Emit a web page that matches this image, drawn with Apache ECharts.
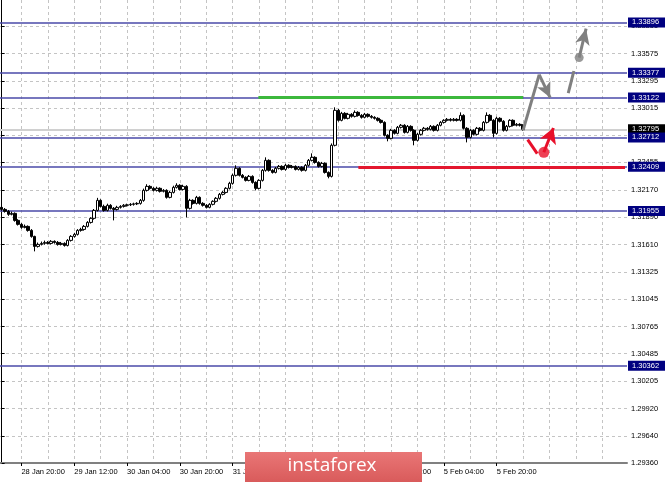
<!DOCTYPE html>
<html><head><meta charset="utf-8">
<script src="https://cdn.jsdelivr.net/npm/echarts@6/dist/echarts.min.js"></script>
<style>html,body{margin:0;padding:0;background:#fff}#c{width:665px;height:482px}</style>
</head><body><div id="c"></div>
<script>
// ---- DATA (H1 candles, 28 Jan 14:00 .. 6 Feb 04:00) ----
const opens = [
1.31992,1.31971,1.31951,1.31920,1.31930,1.31858,1.31817,1.31786,1.31796,1.31755,
1.31693,1.31590,1.31611,1.31621,1.31631,1.31621,1.31642,1.31631,1.31611,1.31621,
1.31600,1.31652,1.31693,1.31714,1.31755,1.31765,1.31796,1.31837,1.31879,1.31961,
1.32064,1.32002,1.31961,1.32013,1.31982,1.31971,1.31992,1.32002,1.32013,1.32018,
1.32023,1.32028,1.32033,1.32064,1.32167,1.32208,1.32188,1.32167,1.32188,1.32157,
1.32167,1.32095,1.32146,1.32198,1.32219,1.32177,1.32208,1.31982,1.32064,1.32033,
1.32095,1.32033,1.32013,1.31992,1.32023,1.32054,1.32085,1.32126,1.32146,1.32188,
1.32239,1.32322,1.32394,1.32322,1.32301,1.32270,1.32311,1.32249,1.32188,1.32270,
1.32373,1.32476,1.32373,1.32352,1.32394,1.32414,1.32383,1.32425,1.32404,1.32414,
1.32383,1.32404,1.32373,1.32425,1.32476,1.32507,1.32455,1.32414,1.32445,1.32352,
1.32311,1.32631,1.32991,1.32888,1.32960,1.32909,1.32950,1.32929,1.32970,1.32939,
1.32919,1.32950,1.32929,1.32919,1.32909,1.32888,1.32867,1.32734,1.32703,1.32785,
1.32754,1.32816,1.32837,1.32764,1.32826,1.32785,1.32682,1.32744,1.32785,1.32806,
1.32795,1.32826,1.32785,1.32837,1.32867,1.32888,1.32898,1.32888,1.32898,1.32888,
1.32939,1.32806,1.32713,1.32785,1.32744,1.32806,1.32785,1.32867,1.32939,1.32888,
1.32754,1.32909,1.32878,1.32785,1.32826,1.32888,1.32837,1.32847,1.32837];
const closes = [
1.31971,1.31951,1.31920,1.31930,1.31858,1.31817,1.31786,1.31796,1.31755,1.31693,
1.31590,1.31611,1.31621,1.31631,1.31621,1.31642,1.31631,1.31611,1.31621,1.31600,
1.31652,1.31693,1.31714,1.31755,1.31765,1.31796,1.31837,1.31879,1.31961,1.32064,
1.32002,1.31961,1.32013,1.31982,1.31971,1.31992,1.32002,1.32013,1.32018,1.32023,
1.32028,1.32033,1.32064,1.32167,1.32208,1.32188,1.32167,1.32188,1.32157,1.32167,
1.32095,1.32146,1.32198,1.32219,1.32177,1.32208,1.31982,1.32064,1.32033,1.32095,
1.32033,1.32013,1.31992,1.32023,1.32054,1.32085,1.32126,1.32146,1.32188,1.32239,
1.32322,1.32394,1.32322,1.32301,1.32270,1.32311,1.32249,1.32188,1.32270,1.32373,
1.32476,1.32373,1.32352,1.32394,1.32414,1.32383,1.32425,1.32404,1.32414,1.32383,
1.32404,1.32373,1.32425,1.32476,1.32507,1.32455,1.32414,1.32445,1.32352,1.32311,
1.32631,1.32991,1.32888,1.32960,1.32909,1.32950,1.32929,1.32970,1.32939,1.32919,
1.32950,1.32929,1.32919,1.32909,1.32888,1.32867,1.32734,1.32703,1.32785,1.32754,
1.32816,1.32837,1.32764,1.32826,1.32785,1.32682,1.32744,1.32785,1.32806,1.32795,
1.32826,1.32785,1.32837,1.32867,1.32888,1.32898,1.32888,1.32898,1.32888,1.32939,
1.32806,1.32713,1.32785,1.32744,1.32806,1.32785,1.32867,1.32939,1.32888,1.32754,
1.32909,1.32878,1.32785,1.32826,1.32888,1.32837,1.32847,1.32837,1.32795];
const lows = [
1.31958,1.31938,1.31905,1.31910,1.31845,1.31805,1.31772,1.31776,1.31742,1.31680,
1.31539,1.31578,1.31600,1.31608,1.31610,1.31610,1.31618,1.31598,1.31600,1.31588,
1.31590,1.31640,1.31680,1.31702,1.31742,1.31752,1.31785,1.31825,1.31866,1.31950,
1.31990,1.31948,1.31950,1.31970,1.31858,1.31960,1.31980,1.31990,1.32000,1.32006,
1.32010,1.32016,1.32020,1.32050,1.32155,1.32175,1.32155,1.32155,1.32145,1.32146,
1.32082,1.32085,1.32135,1.32186,1.32165,1.32166,1.31889,1.31970,1.32020,1.32022,
1.32020,1.32000,1.31980,1.31982,1.32012,1.32042,1.32072,1.32115,1.32135,1.32176,
1.32226,1.32310,1.32310,1.32290,1.32258,1.32260,1.32236,1.32167,1.32176,1.32258,
1.32360,1.32360,1.32340,1.32342,1.32382,1.32372,1.32370,1.32392,1.32393,1.32372,
1.32372,1.32360,1.32362,1.32412,1.32465,1.32442,1.32402,1.32403,1.32340,1.32291,
1.32300,1.32620,1.32875,1.32878,1.32898,1.32898,1.32916,1.32918,1.32926,1.32906,
1.32908,1.32916,1.32906,1.32896,1.32876,1.32855,1.32722,1.32672,1.32692,1.32742,
1.32744,1.32804,1.32752,1.32754,1.32772,1.32631,1.32670,1.32732,1.32774,1.32782,
1.32784,1.32772,1.32774,1.32826,1.32855,1.32876,1.32876,1.32877,1.32876,1.32877,
1.32794,1.32661,1.32702,1.32732,1.32733,1.32772,1.32774,1.32855,1.32876,1.32713,
1.32742,1.32866,1.32772,1.32774,1.32814,1.32825,1.32826,1.32825,1.32782];
const highs = [
1.32010,1.31985,1.31965,1.31948,1.31940,1.31870,1.31830,1.31815,1.31806,1.31768,
1.31700,1.31630,1.31640,1.31650,1.31645,1.31655,1.31652,1.31645,1.31636,1.31632,
1.31665,1.31706,1.31730,1.31768,1.31782,1.31810,1.31850,1.31890,1.31975,1.32090,
1.32075,1.32020,1.32030,1.32025,1.31995,1.32008,1.32015,1.32026,1.32030,1.32036,
1.32040,1.32045,1.32078,1.32185,1.32230,1.32220,1.32200,1.32205,1.32198,1.32180,
1.32178,1.32160,1.32215,1.32240,1.32230,1.32225,1.32220,1.32080,1.32075,1.32110,
1.32105,1.32045,1.32025,1.32035,1.32065,1.32098,1.32140,1.32160,1.32200,1.32255,
1.32340,1.32425,1.32405,1.32335,1.32312,1.32325,1.32322,1.32260,1.32282,1.32386,
1.32507,1.32486,1.32385,1.32408,1.32428,1.32425,1.32440,1.32436,1.32428,1.32424,
1.32418,1.32415,1.32438,1.32490,1.32548,1.32518,1.32466,1.32460,1.32455,1.32362,
1.32650,1.33022,1.33005,1.32975,1.32972,1.32965,1.32962,1.32990,1.32982,1.32952,
1.32965,1.32960,1.32942,1.32930,1.32920,1.32900,1.32878,1.32745,1.32800,1.32797,
1.32830,1.32850,1.32848,1.32840,1.32837,1.32796,1.32758,1.32798,1.32820,1.32818,
1.32840,1.32836,1.32850,1.32880,1.32900,1.32912,1.32910,1.32912,1.32910,1.32970,
1.32950,1.32818,1.32798,1.32796,1.32820,1.32818,1.32880,1.32970,1.32952,1.32900,
1.32925,1.32920,1.32890,1.32840,1.32900,1.32898,1.32860,1.32858,1.32848];
const futureBars = 31;
const firstBar = '2019-01-28T14:00:00Z';
const yTickValues = [1.29360,1.29640,1.29920,1.30205,1.30485,1.30765,1.31045,1.31325,1.31610,1.31890,1.32170,1.32455,1.32735,1.33015,1.33295,1.33575,1.33855];
const xTickLabels = ["28 Jan 20:00","29 Jan 12:00","30 Jan 04:00","30 Jan 20:00","31 Jan 12:00","1 Feb 04:00","1 Feb 20:00","4 Feb 12:00","5 Feb 04:00","5 Feb 20:00"];
const levelValues = [1.33896,1.33377,1.33122,1.32712,1.32409,1.31955,1.30362];
const lastPrice = 1.32795;
const greenLine = [[77.8,1.33122],[158.0,1.33122]];
const redLine = [[108.1,1.32409],[188.9,1.32409]];
const grayPath = [[158.0,1.32785],[162.9,1.33359]];
const grayArrow1 = [[162.9,1.33359],[166.2,1.33122]];
const grayDash = [[171.7,1.33169],[173.4,1.33396]];
const grayArrow2 = [[175.0,1.33534],[177.1,1.33832]];
const grayDot = [[175.0,1.33534]];
const redPath = [[159.4,1.32690],[162.3,1.32545]];
const redArrow = [[164.3,1.32559],[167.2,1.32809]];
const redDot = [[164.3,1.32559]];

// ---- build ----
const MON = ['Jan','Feb','Mar','Apr','May','Jun','Jul','Aug','Sep','Oct','Nov','Dec'];
const nCat = closes.length + futureBars;
const categories = [];
let t = Date.parse(firstBar);
while (categories.length < nCat) {
  const d = new Date(t);
  const wd = d.getUTCDay();
  if (wd !== 0 && wd !== 6) {
    categories.push(d.getUTCDate() + ' ' + MON[d.getUTCMonth()] + ' ' + String(d.getUTCHours()).padStart(2,'0') + ':00');
  }
  t += 3600000;
}
const candleData = closes.map((c,i)=>[opens[i], c, lows[i], highs[i]]);
const firstLabelIdx = categories.indexOf(xTickLabels[0]);
const vGrid = [];
for (let v = firstLabelIdx; v < nCat; v += 8) vGrid.push(v);

const FONT = '"Liberation Sans", Arial, sans-serif';
const gridDash = {color:'#c4c4c4', width:1, type:[3,3]};
const lvlLabel = (bg) => ({show:true, position:'end', distance:1, formatter:p=>Number(p.value).toFixed(5),
  color:'#fff', backgroundColor:bg, padding:[1,6,0,4], fontSize:7.5, fontFamily:FONT, lineHeight:9});
const seg = (pts, arrow, size) => [
  {coord:pts[0], symbol:'none'},
  {coord:pts[1], symbol: arrow ? 'arrow' : 'none', symbolSize: size || 10}
];

const chart = echarts.init(document.getElementById('c'), null, {renderer:'canvas'});
chart.setOption({
  animation:false,
  backgroundColor:'#ffffff',
  grid:{left:0, right:38, top:0, bottom:19},
  xAxis:[{
    type:'category', data:categories, boundaryGap:true,
    axisLine:{show:true, lineStyle:{color:'#808080', width:2}},
    axisTick:{show:true, alignWithLabel:true, length:3, lineStyle:{color:'#000'},
      interval:(i,v)=>xTickLabels.indexOf(v)>=0},
    axisLabel:{show:true, interval:(i,v)=>xTickLabels.indexOf(v)>=0, align:'left',
      color:'#000', fontSize:7.5, fontFamily:FONT, margin:5},
    splitLine:{show:false}
  },{
    type:'value', min:-0.5, max:nCat-0.5, position:'bottom',
    axisLine:{show:false},
    axisTick:{show:false, customValues:vGrid},
    axisLabel:{show:false, customValues:vGrid},
    splitLine:{show:true, lineStyle:gridDash}
  }],
  yAxis:{
    type:'value', position:'right', min:1.29360, max:1.34127, scale:true,
    axisLine:{show:true, lineStyle:{color:'#000', width:1}},
    axisTick:{show:true, length:3, customValues:yTickValues, lineStyle:{color:'#000'}},
    axisLabel:{show:true, customValues:yTickValues, formatter:v=>v.toFixed(5), color:'#000',
      fontSize:7.5, fontFamily:FONT, margin:4},
    splitLine:{show:true, lineStyle:gridDash}
  },
  series:[{
    type:'candlestick', xAxisIndex:0, yAxisIndex:0, data:candleData, barWidth:3,
    itemStyle:{color:'#ffffff', color0:'#000000', borderColor:'#000000', borderColor0:'#000000', borderWidth:1},
    markLine:{silent:true, symbol:['none','none'], precision:5, z:1,
      data:[{yAxis:lastPrice, lineStyle:{color:'#d0d0d0', width:2, type:'solid'}, label:lvlLabel('#000000')}]
        .concat(levelValues.map(v=>({yAxis:v, lineStyle:{color:'#4a4aa8', width:1.5, type:'solid'}, label:lvlLabel('#000080')})))
    },
    z:3
  },{
    type:'scatter', xAxisIndex:1, yAxisIndex:0, data:grayDot, symbolSize:9,
    itemStyle:{color:'#7f7f7f'}, z:4, silent:true,
    markLine:{silent:true, symbol:['none','none'], label:{show:false}, lineStyle:{color:'#808080', width:3, type:'solid'},
      data:[
        [{coord:greenLine[0], symbol:'none', lineStyle:{color:'#3cb83c', width:3}},{coord:greenLine[1], symbol:'none'}],
        [{coord:redLine[0], symbol:'none', lineStyle:{color:'#e3172e', width:3}},{coord:redLine[1], symbol:'none'}],
        seg(grayPath,false),
        seg(grayArrow1,true,[11,15]),
        seg(grayDash,false),
        seg(grayArrow2,true,[11,16])
      ]}
  },{
    type:'scatter', xAxisIndex:1, yAxisIndex:0, data:redDot, symbolSize:11,
    itemStyle:{color:'#e8102a'}, z:5, silent:true,
    markLine:{silent:true, symbol:['none','none'], label:{show:false}, lineStyle:{color:'#e8102a', width:3, type:'solid'},
      data:[ seg(redPath,false), seg(redArrow,true,[13,15]) ]}
  }],
  graphic:[
    {type:'rect', x:245, y:452, shape:{width:177, height:30}, z:100,
      style:{fill:new echarts.graphic.LinearGradient(0,0,0,1,[{offset:0,color:'#e97676'},{offset:1,color:'#d95b5b'}])}},
    {type:'text', x:332, y:466, z:101,
      style:{text:'instaforex', fill:'#ffffff', fontSize:19, fontFamily:'"Open Sans", sans-serif', align:'center', verticalAlign:'middle'}}
  ]
});
</script></body></html>
